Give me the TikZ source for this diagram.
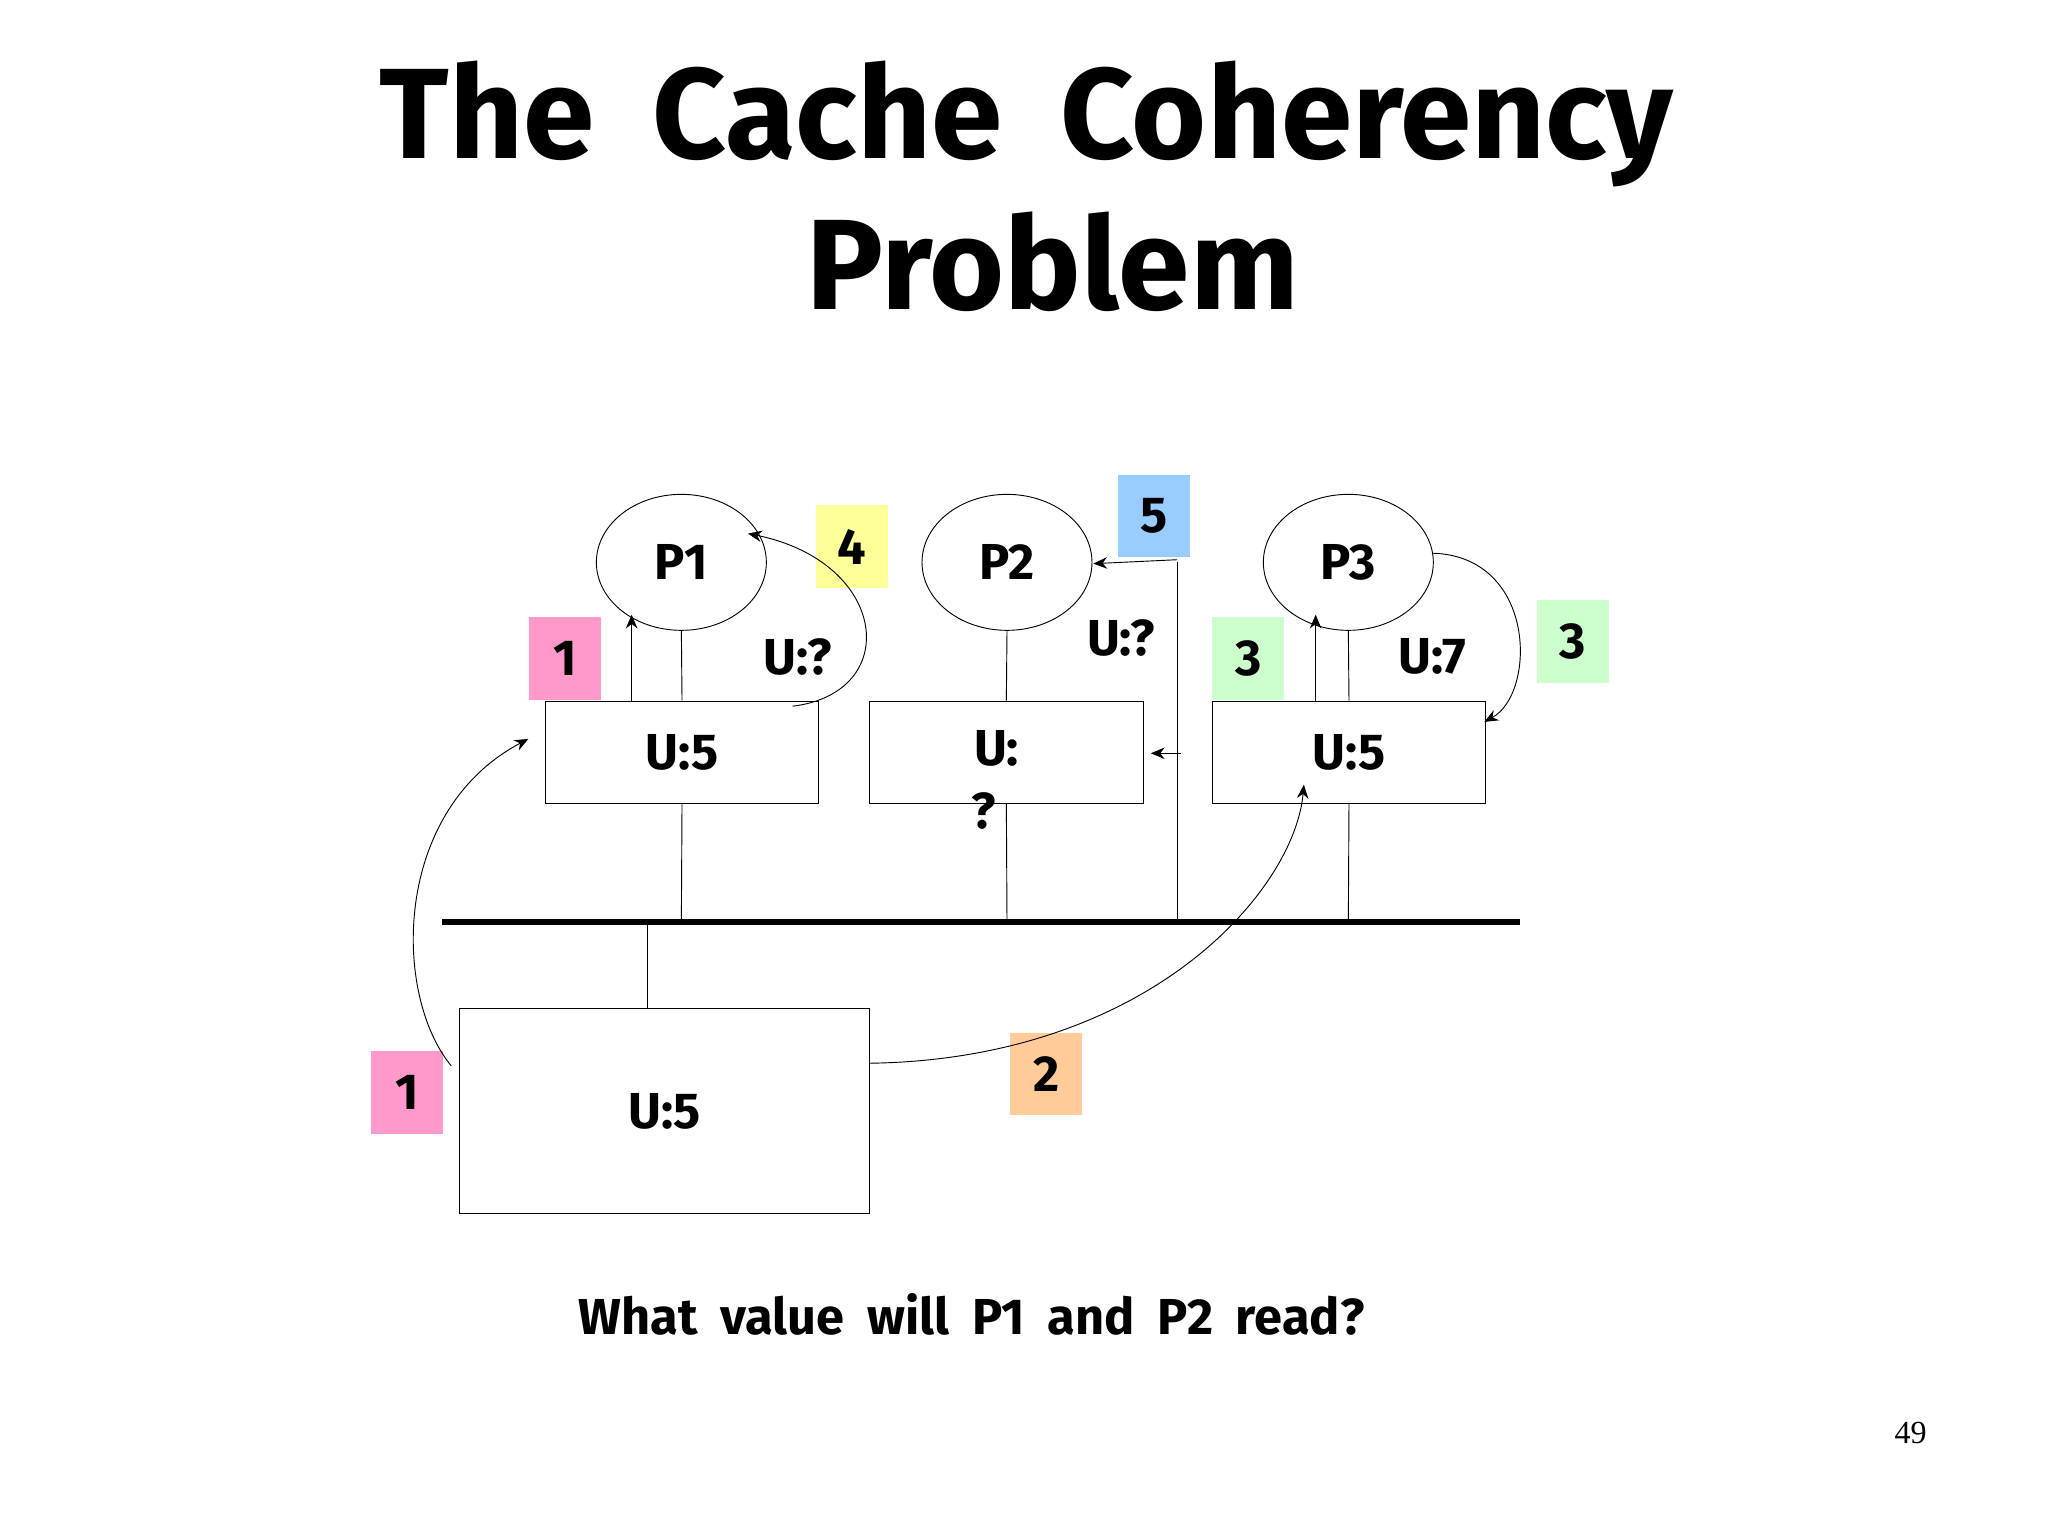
\documentclass[tikz,border=0pt]{standalone}
\usepackage{fontspec}
\setmainfont{Fira Sans}[WordSpace=1.9]
\newfontfamily\numfont{Liberation Serif}
\usetikzlibrary{shapes.geometric,arrows.meta}
\definecolor{cpink}{HTML}{FF99CC}
\definecolor{cyel}{HTML}{FFFF99}
\definecolor{cblue}{HTML}{99CCFF}
\definecolor{cgreen}{HTML}{CCFFCC}
\definecolor{corange}{HTML}{FFCC99}
\begin{document}
\begin{tikzpicture}[x=0.02cm,y=-0.02cm,
  proc/.style={draw,ellipse,minimum width=2.6cm,minimum height=2.08cm,font=\fontsize{22}{26}\selectfont\bfseries},
  cachebox/.style={draw,minimum width=4.18cm,minimum height=1.56cm,font=\fontsize{22}{26}\selectfont\bfseries},
  tag/.style={fill=#1,minimum width=1.1cm,minimum height=1.26cm,inner sep=0pt,font=\fontsize{22}{26}\selectfont\bfseries},
  lbl/.style={font=\fontsize{22}{26}\selectfont\bfseries},
  arr/.style={-{Stealth[length=6pt,width=5pt]}}]
\useasboundingbox (0,0) rectangle (1566,1175);
\node[font=\fontsize{56}{60}\selectfont\bfseries] (t1) at (785,95) {The Cache Coherency};
\node[font=\fontsize{56}{60}\selectfont\bfseries] (t2) at (805,200) {Problem};
\node[proc] (p1) at (521,430) {P1};
\node[proc] (p2) at (770,430) {P2};
\node[proc] (p3) at (1031,430) {P3};
\node[cachebox] (c1) at (521.5,575) {U:5};
\node[cachebox] (c2) at (769.5,575) {};
\node[lbl] (c2a) at (762,572) {U:};
\node[lbl] (c2b) at (752,620) {?};
\node[cachebox] (c3) at (1031.5,575) {U:5};
\node[draw,minimum width=6.28cm,minimum height=3.14cm,font=\fontsize{22}{26}\selectfont\bfseries] (mem) at (508,849.5) {U:5};
\coordinate (busL) at (338,705); \coordinate (busR) at (1162,705);
\draw[line width=2.5pt] (busL) -- (busR);
\draw (p1.south) -- (c1.north); \draw (c1.south) -- (521,705);
\draw (p2.south) -- (c2.north); \draw (c2.south) -- (770,705);
\draw (p3.south) -- (c3.north); \draw (c3.south) -- (1031,705);
\draw (495,705) -- (mem.north -| 495,705);
% tags
\node[tag=cpink] (k1a) at (432,503.5) {1};
\node[tag=cpink] (k1b) at (311.5,835.5) {1};
\node[tag=cyel] (k4) at (651.5,418) {4};
\node[tag=cblue] (k5) at (882.5,394.5) {5};
\node[tag=cgreen] (k3a) at (954.5,503.5) {3};
\node[tag=cgreen] (k3b) at (1202.5,490.5) {3};
\node[tag=corange] (k2) at (800,821) {2};
\node[lbl] (u1) at (610,502) {U:?};
\node[lbl] (u2) at (857,488) {U:?};
\node[lbl] (u3) at (1095,502) {U:7};
% arrows
\draw[arr] (483,536) -- (483,470);
\draw[arr] (1006,536) -- (1006,470);
\draw[arr] (345,815) .. controls (300,760) and (300,620) .. (404,565);
\draw[arr] (606,540) .. controls (690,530) and (680,430) .. (572,408);
\draw (900,430) -- (900,705);
\draw[arr] (900,428) -- (836,431);
\draw[arr] (903,576) -- (880,576);
\draw[arr] (1095,423) .. controls (1175,425) and (1175,530) .. (1135,552);
\draw[arr] (665,813) .. controls (880,810) and (990,680) .. (997,600);
\node[font=\fontsize{22}{24}\selectfont\bfseries] (q) at (743,1005) {What value will P1 and P2 read?};
\node[font=\fontsize{14}{16}\selectfont\numfont] (pg) at (1461,1096) {49};
\end{tikzpicture}
\end{document}
